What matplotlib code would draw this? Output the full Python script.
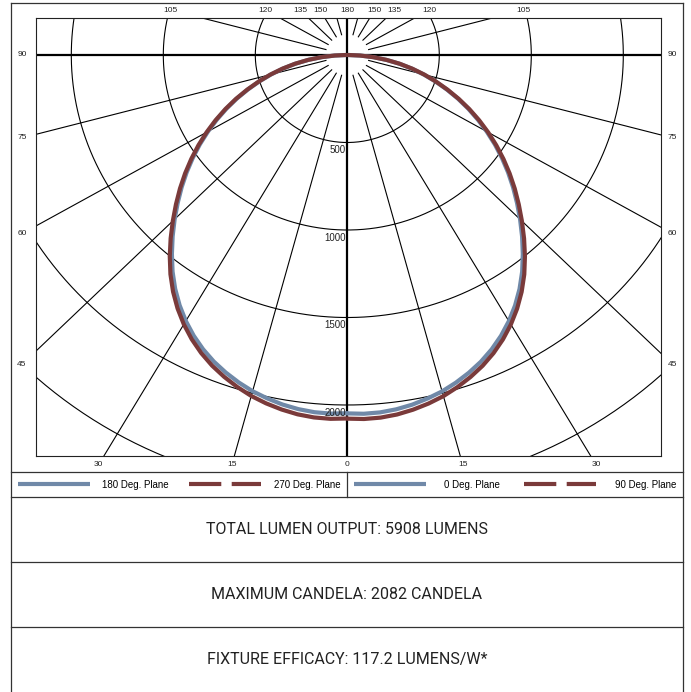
import numpy as np
import matplotlib
matplotlib.use("Agg")
import matplotlib.pyplot as plt
from matplotlib.lines import Line2D

# vertical angle from nadir (deg) and candela for each plane
angles = [0, 2.5, 5, 7.5, 10, 12.5, 15, 17.5, 20, 22.5, 25, 27.5, 30, 32.5, 35, 37.5,
          40, 42.5, 45, 47.5, 50, 52.5, 55, 57.5, 60, 62.5, 65, 67.5, 70, 72.5, 75,
          77.5, 80, 82.5, 85, 87.5, 90]
cd_90 = [2078, 2082, 2080, 2072, 2058, 2040, 2018, 1990, 1958, 1922, 1880, 1832, 1778,
         1718, 1652, 1580, 1502, 1422, 1342, 1264, 1188, 1112, 1036, 960, 884, 808, 732,
         656, 580, 506, 434, 362, 290, 216, 142, 70, 6]
cd_270 = [2077, 2081, 2079, 2071, 2057, 2039, 2017, 1989, 1957, 1921, 1879, 1831, 1777,
          1717, 1651, 1579, 1501, 1421, 1341, 1263, 1187, 1111, 1035, 959, 883, 807, 731,
          655, 579, 505, 433, 361, 289, 215, 141, 69, 6]
cd_0 = [2048, 2052, 2050, 2042, 2029, 2011, 1990, 1963, 1932, 1897, 1856, 1809, 1756,
        1697, 1632, 1561, 1484, 1406, 1328, 1251, 1176, 1101, 1026, 951, 875, 800, 725,
        650, 575, 502, 430, 359, 288, 214, 141, 69, 6]
cd_180 = [2047, 2051, 2049, 2041, 2028, 2010, 1989, 1962, 1931, 1896, 1855, 1808, 1755,
          1696, 1631, 1560, 1483, 1405, 1327, 1250, 1175, 1100, 1025, 950, 874, 799, 724,
          649, 574, 501, 429, 358, 287, 213, 140, 68, 6]

rings = [500, 1000, 1500, 2000, 2500, 3000]
ring_labels = [500, 1000, 1500, 2000]
spokes = [15, 30, 45, 60, 75, 105, 120, 135, 150, 165]
bottom_labels = [0, 15, 30]
side_labels = [45, 60, 75, 90]
top_labels = [105, 120, 135, 150, 180]

legend_left = ["180 Deg. Plane", "270 Deg. Plane"]
legend_right = ["0 Deg. Plane", "90 Deg. Plane"]
info_lines = ["TOTAL LUMEN OUTPUT: 5908 LUMENS",
              "MAXIMUM CANDELA: 2082 CANDELA",
              "FIXTURE EFFICACY: 117.2 LUMENS/W*"]

blue = "#7089a8"
red = "#7a3a3a"
edge = "#333333"

W, H = 691, 692
fig = plt.figure(figsize=(W / 100, H / 100), dpi=100)


def fx(px):
    return px / W


def fy(py):
    return 1 - py / H


# plot area in pixels, centre of the diagram at (347.3, 55)
ax = fig.add_axes([fx(36), fy(456), fx(661) - fx(36), fy(18) - fy(456)])
sx, sy = 0.184, 0.175  # px per candela
cx, cy = 347.3, 55
ax.set_xlim(-(cx - 36) / sx, (661 - cx) / sx)
ax.set_ylim(-(456 - cy) / sy, (cy - 18) / sy)
ax.set_aspect("auto")
ax.set_xticks([])
ax.set_yticks([])
for s in ax.spines.values():
    s.set_linewidth(0.8)
    s.set_color("#222222")

# grid rings and spokes
t = np.linspace(0, 2 * np.pi, 721)
for r in rings:
    ax.plot(r * np.sin(t), r * np.cos(t), color="black", lw=0.8, zorder=1)
for a in spokes:
    ar = np.radians(a)
    rr = np.array([120, 6000])
    for side in (-1, 1):
        ax.plot(side * rr * np.sin(ar), -rr * np.cos(ar), color="black", lw=0.8, zorder=1)
ax.axhline(0, color="black", lw=1.6, zorder=2)
ax.axvline(0, color="black", lw=1.6, zorder=2)

# candela curves: left half = 180 / 270 planes, right half = 0 / 90 planes
ang = np.radians(angles)
curves = [(cd_180, -1, blue, 3), (cd_0, 1, blue, 3), (cd_270, -1, red, 4), (cd_90, 1, red, 4)]
for vals, side, col, z in curves:
    v = np.array(vals)
    ax.plot(side * v * np.sin(ang), -v * np.cos(ang), color=col, lw=3,
            solid_capstyle="round", solid_joinstyle="round", zorder=z)

# radial labels
for r in ring_labels:
    ax.annotate(str(r), xy=(0, -r), xytext=(-1, -2), textcoords="offset points",
                ha="right", va="top", fontsize=7, color="#222222",
                family="Liberation Sans", zorder=5)

# angle labels placed where the spokes meet the label lines
y_bot = (465 - cy) / sy
y_top = (cy - 10) / sy
x_side = (cx - 22) / sx
lab_kw = dict(ha="center", va="center", fontsize=6, color="#222222",
              family="Liberation Sans", clip_on=False)
for a in bottom_labels:
    sides = (1,) if a == 0 else (-1, 1)
    for side in sides:
        ax.text(side * y_bot * np.tan(np.radians(a)), -y_bot, str(a), **lab_kw)
for a in side_labels:
    for side in (-1, 1):
        yy = 0 if a == 90 else -x_side / np.tan(np.radians(a))
        ax.text(side * x_side, yy, str(a), **lab_kw)
for a in top_labels:
    sides = (1,) if a == 180 else (-1, 1)
    for side in sides:
        ax.text(side * y_top * np.tan(np.radians(180 - a)), y_top, str(a), **lab_kw)


# frame boxes
def hline(py, x0=11, x1=683):
    fig.add_artist(Line2D([fx(x0), fx(x1)], [fy(py), fy(py)], color=edge, lw=0.9))


def vline(px, y0, y1):
    fig.add_artist(Line2D([fx(px), fx(px)], [fy(y0), fy(y1)], color=edge, lw=0.9))


hline(2.5)
for py in (472, 497, 562, 627):
    hline(py)
vline(11, 2.5, 692)
vline(683, 2.5, 692)
vline(347, 472, 497)

# legend
h_blue = Line2D([], [], color=blue, lw=3, solid_capstyle="butt")
h_red = Line2D([], [], color=red, lw=3, linestyle=(0, (7.75, 2.5)), dash_capstyle="butt")
leg_kw = dict(loc="center", mode="expand", ncol=2, frameon=False, handlelength=7.4,
              handletextpad=1.3, borderaxespad=0, borderpad=0.7, columnspacing=0.6,
              prop={"family": "Liberation Sans", "size": 7})
fig.legend(handles=[h_blue, h_red], labels=legend_left,
           bbox_to_anchor=(fx(11), fy(497), fx(347) - fx(11), fy(472) - fy(497)), **leg_kw)
leg_kw["handletextpad"] = 1.9
fig.legend(handles=[h_blue, h_red], labels=legend_right,
           bbox_to_anchor=(fx(347), fy(497), fx(683) - fx(347), fy(472) - fy(497)), **leg_kw)

# info boxes
for i, txt in enumerate(info_lines):
    fig.text(fx(347), fy(529.5 + 65 * i), txt, ha="center", va="center",
             fontsize=11.5, family="Roboto", weight="normal", color="#222222")

fig.savefig("out.png", dpi=100)
